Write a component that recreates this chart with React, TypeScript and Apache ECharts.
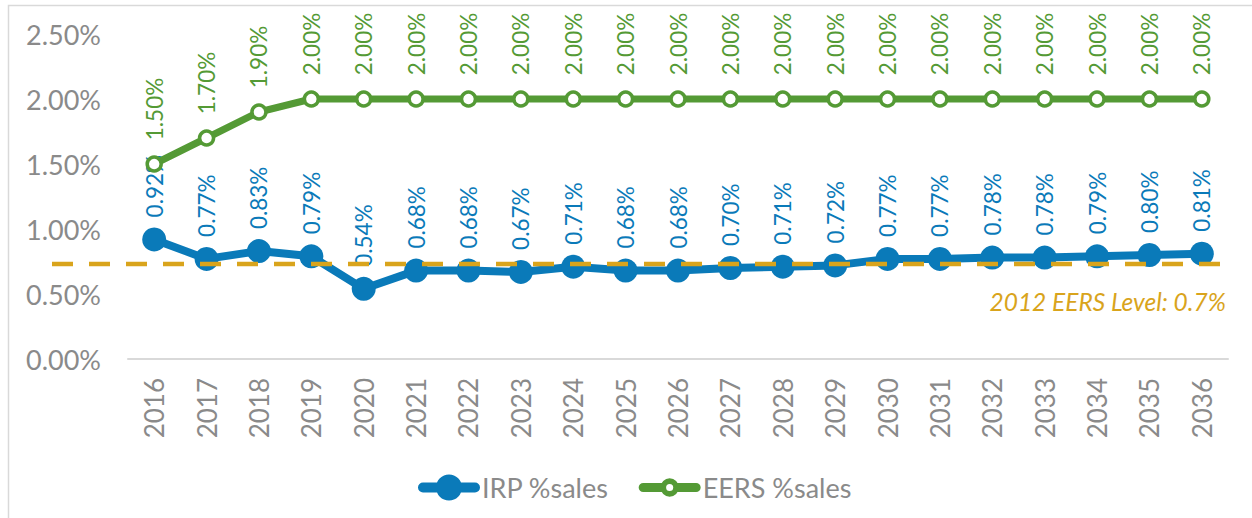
import React, { useEffect, useRef } from "react";
import * as echarts from "echarts";

const years = ["2016","2017","2018","2019","2020","2021","2022","2023","2024","2025","2026","2027","2028","2029","2030","2031","2032","2033","2034","2035","2036"];
const irpSales = [0.92,0.77,0.83,0.79,0.54,0.68,0.68,0.67,0.71,0.68,0.68,0.70,0.71,0.72,0.77,0.77,0.78,0.78,0.79,0.80,0.81];
const eersSales = [1.50,1.70,1.90,2.00,2.00,2.00,2.00,2.00,2.00,2.00,2.00,2.00,2.00,2.00,2.00,2.00,2.00,2.00,2.00,2.00,2.00];
const eers2012Level = 0.73;
const eers2012Label = "2012 EERS Level: 0.7%";

const BLUE = "#0A7AB9";
const GREEN = "#549A35";
const GOLD = "#D9A41C";
const GRAY = "#8a8a8a";
const FONT = "Lato";

const BLUE_ICON =
  "path://M5,8 L57,8 A5,5 0 0 1 57,18 L5,18 A5,5 0 0 1 5,8 Z " +
  "M18,13 A13,13 0 1 1 44,13 A13,13 0 1 1 18,13 Z";
const GREEN_ICON =
  "path://M5,8.5 L24,8.5 L24,17.5 L5,17.5 A4.5,4.5 0 0 1 5,8.5 Z " +
  "M38,8.5 L57,8.5 A4.5,4.5 0 0 1 57,17.5 L38,17.5 Z " +
  "M22,13 A9,9 0 1 1 40,13 A9,9 0 1 1 22,13 Z " +
  "M27.5,13 A3.5,3.5 0 1 0 34.5,13 A3.5,3.5 0 1 0 27.5,13 Z";

export default function App() {
  const ref = useRef<HTMLDivElement>(null);
  useEffect(() => {
    document.body.style.margin = "0";
    const chart = echarts.init(ref.current!, undefined, { renderer: "svg" });
    const fmt = (v: number) => v.toFixed(2) + "%";
    chart.setOption({
      animation: false,
      textStyle: { fontFamily: FONT },
      grid: { left: 128, right: 24, top: 34, bottom: 159, containLabel: false },
      legend: {
        left: 413,
        top: 469,
        itemWidth: 62,
        itemHeight: 26,
        itemGap: 30,
        textStyle: { color: GRAY, fontSize: 27, fontFamily: FONT, padding: [0, 0, 0, -3] },
        data: [
          { name: "IRP %sales", icon: BLUE_ICON, itemStyle: { color: BLUE, borderWidth: 0 } },
          { name: "EERS %sales", icon: GREEN_ICON, itemStyle: { color: GREEN, borderWidth: 0 } },
        ],
      },
      xAxis: {
        type: "category",
        data: years,
        boundaryGap: true,
        axisLine: { lineStyle: { color: "#d9d9d9", width: 2 } },
        axisTick: { show: false },
        axisLabel: { rotate: 90, margin: 19, color: GRAY, fontSize: 26, fontFamily: FONT },
      },
      yAxis: {
        type: "value",
        min: 0,
        max: 2.5,
        interval: 0.5,
        splitLine: { show: false },
        axisLine: { show: false },
        axisTick: { show: false },
        axisLabel: { margin: 27, color: GRAY, fontSize: 27, fontFamily: FONT, formatter: fmt },
      },
      series: [
        {
          name: "IRP %sales",
          type: "line",
          data: irpSales,
          symbol: "circle",
          symbolSize: 24,
          lineStyle: { color: BLUE, width: 8 },
          itemStyle: { color: BLUE },
          z: 2,
          label: {
            show: true,
            position: "top",
            rotate: 90,
            align: "left",
            verticalAlign: "middle",
            distance: 10,
            color: BLUE,
            fontSize: 22.5,
            fontFamily: FONT,
            formatter: (p: any) => fmt(p.value),
          },
        },
        {
          name: "EERS %sales",
          type: "line",
          data: eersSales,
          symbol: "circle",
          symbolSize: 14,
          lineStyle: { color: GREEN, width: 7 },
          itemStyle: { color: "#ffffff", borderColor: GREEN, borderWidth: 3.5 },
          z: 3,
          label: {
            show: true,
            position: "top",
            rotate: 90,
            align: "left",
            verticalAlign: "middle",
            distance: 15,
            color: GREEN,
            fontSize: 22.5,
            fontFamily: FONT,
            formatter: (p: any) => fmt(p.value),
          },
        },
      ],
    });
    const y = chart.convertToPixel({ yAxisIndex: 0 }, eers2012Level) as number;
    chart.setOption({
      graphic: [
        {
          type: "rect",
          silent: true,
          z: -10,
          shape: { x: 8.5, y: 5.5, width: 1400, height: 700 },
          style: { fill: "none", stroke: "#d9d9d9", lineWidth: 1.5 },
        },
        {
          type: "line",
          silent: true,
          z: 100,
          shape: { x1: 52, y1: y, x2: 1230, y2: y },
          style: { stroke: GOLD, lineWidth: 4.5, lineDash: [21, 16] },
        },
        {
          type: "text",
          silent: true,
          z: 100,
          x: 1226,
          y: y + 37,
          style: {
            text: eers2012Label,
            fill: GOLD,
            font: `italic 24.5px ${FONT}`,
            align: "right",
            verticalAlign: "middle",
          },
        },
      ],
    });
    return () => chart.dispose();
  }, []);
  return <div ref={ref} style={{ width: 1252, height: 518 }} />;
}
